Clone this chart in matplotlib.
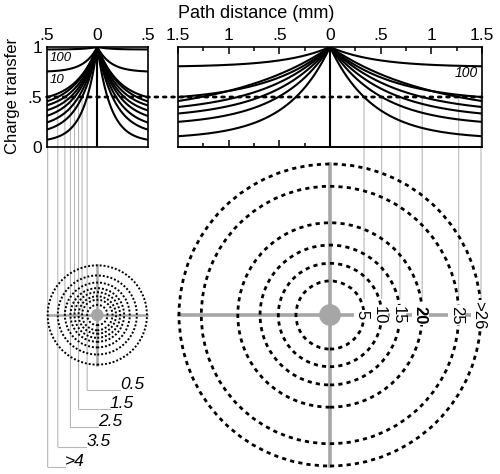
import numpy as np
import matplotlib.pyplot as plt
from matplotlib.patches import ConnectionPatch, Circle

plt.rcParams['font.family'] = ['Liberation Sans', 'DejaVu Sans']

# ---- data ----
# left panel (short paths): curve label, floor value, distance where it crosses .5 (mm)
left_labels = ['100', '10', '>4', '3.5', '3', '2.5', '2', '1.5', '1', '0.5']
left_floor = [0.975, 0.75, 0.44, 0.38, 0.35, 0.30, 0.24, 0.18, 0.12, 0.05]
left_half = [None, None, 0.49, 0.39, 0.32, 0.265, 0.225, 0.185, 0.15, 0.10]
left_length = [0.12, 0.13, None, None, None, None, None, None, None, None]

# right panel (long paths)
right_labels = ['100', '>26', '25', '20', '15', '10', '5']
right_floor = [0.80, 0.45, 0.30, 0.33, 0.28, 0.21, 0.08]
right_half = [None, 1.49, 1.27, 0.91, 0.69, 0.51, 0.336]
right_length = [0.45, None, None, None, None, None, None]

small_shown = ['0.5', '1.5', '2.5', '3.5', '>4']
# where the leader of each shown label bends (y) and ends (x), mm around small centre
small_leader = {'0.5': (-0.74, 0.224), '1.5': (-0.928, 0.125), '2.5': (-1.105, 0.007),
                '3.5': (-1.30, -0.11), '>4': (-1.50, -0.32)}

W, H = 500, 474
S = 101.33          # px per mm, same scale everywhere
CL, CR, CY = 97.3, 330.0, 315.0
GRAY = '#a6a6a6'
THIN = '#b8b8b8'

fig = plt.figure(figsize=(W / 100, H / 100), dpi=100)


def px_axes(x0, y0, x1, y1):
    ax = fig.add_axes([x0 / W, 1 - y1 / H, (x1 - x0) / W, (y1 - y0) / H])
    ax.set_facecolor('none')
    return ax


def decay(floor, half, length):
    if half is None:
        return length
    return half / np.log((1 - floor) / (0.5 - floor))


def draw_curves(ax, xmax, floors, halves, lengths):
    x = np.linspace(-xmax, xmax, 801)
    for f, h, L in zip(floors, halves, lengths):
        lam = decay(f, h, L)
        ax.plot(x, f + (1 - f) * np.exp(-np.abs(x) / lam), color='k', lw=1.5)
    ax.axvline(0, color='k', lw=1.5)
    ax.set_xlim(-xmax, xmax)
    ax.set_ylim(0, 1)
    for s in ax.spines.values():
        s.set_linewidth(1.2)
    ax.xaxis.tick_top()


ax_l = px_axes(CL - 0.5 * S, 47, CL + 0.5 * S, 147)
ax_r = px_axes(CR - 1.5 * S, 47, CR + 1.5 * S, 147)
draw_curves(ax_l, 0.5, left_floor, left_half, left_length)
draw_curves(ax_r, 1.5, right_floor, right_half, right_length)

ax_l.set_xticks([-0.5, 0, 0.5], ['.5', '0', '.5'])
ax_l.set_yticks([0, 0.5, 1], ['0', '.5', '1'])
ax_l.tick_params(length=0, labelsize=12.5, pad=3)
ax_l.text(-0.47, 0.89, '100', style='italic', fontsize=9.5, va='center')
ax_l.text(-0.47, 0.67, '10', style='italic', fontsize=9.5, va='center')

ax_r.set_xticks([-1.5, -1, -0.5, 0, 0.5, 1, 1.5], ['1.5', '1', '.5', '0', '.5', '1', '1.5'])
ax_r.set_xticks([-1.25, -0.75, -0.25, 0.25, 0.75, 1.25], minor=True)
ax_r.set_yticks([])
ax_r.tick_params(which='both', direction='in', labelsize=12.5, pad=3, width=1.1)
ax_r.tick_params(which='major', length=5)
ax_r.tick_params(which='minor', length=3)
sec = ax_r.secondary_xaxis('bottom')
sec.set_xticks([-1, -0.5], ['', ''])
sec.set_xticks([-1.25, -0.75, -0.25], minor=True)
sec.tick_params(which='both', direction='in', width=1.1)
sec.tick_params(which='major', length=5)
sec.tick_params(which='minor', length=3)
sec.spines['bottom'].set_linewidth(1.2)
ax_r.text(1.46, 0.74, '100', style='italic', fontsize=10, ha='right', va='center')

fig.text(178 / W, 1 - 13 / H, 'Path distance (mm)', fontsize=13, ha='left', va='center')
fig.text(13 / W, 1 - 96 / H, 'Charge transfer', fontsize=12, rotation=90,
         ha='center', va='center')

# dotted half-transfer line across both panels
fig.add_artist(ConnectionPatch((-0.5, 0.5), (1.5, 0.5), ax_l.transData, ax_r.transData,
                               color='k', lw=2.0, ls=(0, (1, 2)), zorder=3))

# ---- small field (left) ----
ax_s = px_axes(20, 250, 175, 474)
ax_s.set_xlim((20 - CL) / S, (175 - CL) / S)
ax_s.set_ylim((CY - 474) / S, (CY - 250) / S)
ax_s.axis('off')
rs = [h for h in left_half if h is not None]
rmax = max(rs)
ax_s.plot([-rmax, rmax], [0, 0], color=GRAY, lw=1.8, zorder=1)
ax_s.plot([0, 0], [-rmax, rmax], color=GRAY, lw=1.8, zorder=1)
for r in rs:
    ax_s.add_patch(Circle((0, 0), r, fill=False, ec='k', lw=1.4, ls=(0, (1, 1)), zorder=2))
ax_s.add_patch(Circle((0, 0), 0.055, color=GRAY, zorder=3))

for lab, h in zip(left_labels, left_half):
    if h is None:
        continue
    if lab in small_shown:
        ye, xe = small_leader[lab]
        ax_s.plot([-h, xe], [ye, ye], color=THIN, lw=0.8, zorder=0)
        ax_s.text(xe, ye + 0.05, lab, style='italic', fontsize=12.5, ha='left', va='center')
    else:
        ye = 0.0
    fig.add_artist(ConnectionPatch((-h, 0.5), (-h, ye), ax_l.transData, ax_s.transData,
                                   color=THIN, lw=0.8, zorder=-1))

# ---- large field (right) ----
ax_b = px_axes(170, 150, 500, 474)
ax_b.set_xlim((170 - CR) / S, (500 - CR) / S)
ax_b.set_ylim((CY - 474) / S, (CY - 150) / S)
ax_b.axis('off')
rb = [h for h in right_half if h is not None]
Rmax = max(rb)
ax_b.plot([-Rmax, Rmax], [0, 0], color=GRAY, lw=2.6, zorder=1)
ax_b.plot([0, 0], [-Rmax, Rmax], color=GRAY, lw=2.6, zorder=1)
for r in rb:
    ax_b.add_patch(Circle((0, 0), r, fill=False, ec='k', lw=2.0, ls=(0, (1.5, 1.5)), zorder=2))
ax_b.add_patch(Circle((0, 0), 0.1, color=GRAY, zorder=3))

for lab, h in zip(right_labels, right_half):
    if h is None:
        continue
    ax_b.text(h - 0.02, 0, lab, rotation=270, ha='center', va='center', fontsize=12,
              fontweight='bold' if lab == '20' else 'normal',
              bbox=dict(fc='white', ec='none', pad=0.6), zorder=4)
    fig.add_artist(ConnectionPatch((h, 0.5), (h, 0.16), ax_r.transData, ax_b.transData,
                                   color=THIN, lw=0.8, zorder=-1))

fig.savefig('out.png', dpi=100)
